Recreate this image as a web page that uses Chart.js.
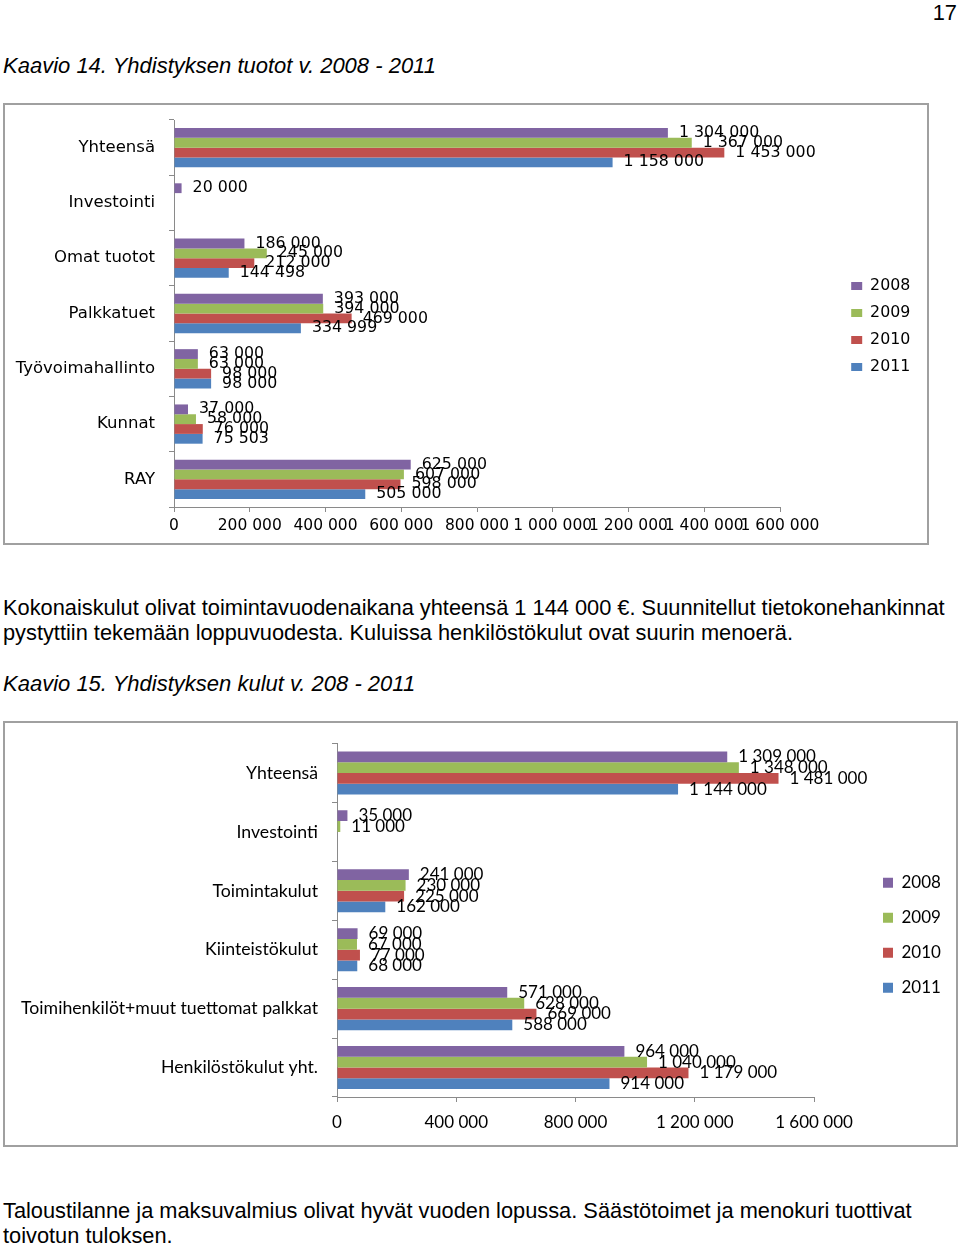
<!DOCTYPE html>
<html>
<head>
<meta charset="utf-8">
<script src="https://cdn.jsdelivr.net/npm/chart.js@4.4.0/dist/chart.umd.min.js"></script>
<style>
  body { margin: 0; background: #fff; width: 960px; height: 1246px; position: relative; overflow: hidden; }
  .txt { position: absolute; left: 3px; font-family: "Liberation Sans", Arial, sans-serif; font-size: 21.8px; line-height: 25px; color: #000; white-space: nowrap; }
  .cap { font-style: italic; font-size: 22px; }
  .frame { position: absolute; left: 3px; border: 2px solid #a0a0a0; box-sizing: border-box; }
  .frame canvas { position: absolute; left: 0; top: 0; }
</style>
</head>
<body>
<div class="txt" id="pnum" style="left:auto; right:3px; top:0px;">17</div>
<div class="txt cap" style="top:53px;">Kaavio 14. Yhdistyksen tuotot v. 2008 - 2011</div>
<div class="frame" style="top:103px; width:926px; height:442px;"><canvas id="tuotot" width="922" height="438"></canvas></div>
<div class="txt" style="top:595px;">Kokonaiskulut olivat toimintavuodenaikana yhteensä 1 144 000 €. Suunnitellut tietokonehankinnat<br>pystyttiin tekemään loppuvuodesta. Kuluissa henkilöstökulut ovat suurin menoerä.</div>
<div class="txt cap" style="top:671px;">Kaavio 15. Yhdistyksen kulut v. 208 - 2011</div>
<div class="frame" style="top:721px; width:955px; height:426px;"><canvas id="kulut" width="951" height="422"></canvas></div>
<div class="txt" style="top:1198px;">Taloustilanne ja maksuvalmius olivat hyvät vuoden lopussa. Säästötoimet ja menokuri tuottivat<br>toivotun tuloksen.</div>

<script>
// vuodet ja värit
const vuodet = ['2008', '2009', '2010', '2011'];
const varit = ['#8064A2', '#9BBB59', '#C0504D', '#4F81BD'];

// Kaavio 14 - tuotot
const tuototLuokat = ['Yhteensä', 'Investointi', 'Omat tuotot', 'Palkkatuet', 'Työvoimahallinto', 'Kunnat', 'RAY'];
const tuotot2008 = [1304000, 20000, 186000, 393000, 63000, 37000, 625000];
const tuotot2009 = [1367000, null, 245000, 394000, 63000, 58000, 607000];
const tuotot2010 = [1453000, null, 212000, 469000, 98000, 76000, 598000];
const tuotot2011 = [1158000, null, 144498, 334999, 98000, 75503, 505000];

// Kaavio 15 - kulut
const kulutLuokat = ['Yhteensä', 'Investointi', 'Toimintakulut', 'Kiinteistökulut', 'Toimihenkilöt+muut tuettomat palkkat', 'Henkilöstökulut yht.'];
const kulut2008 = [1309000, 35000, 241000, 69000, 571000, 964000];
const kulut2009 = [1348000, 11000, 230000, 67000, 628000, 1040000];
const kulut2010 = [1481000, null, 225000, 77000, 669000, 1179000];
const kulut2011 = [1144000, null, 162000, 68000, 588000, 914000];

function muotoile(v) {
    return String(v).replace(/\B(?=(\d{3})+(?!\d))/g, ' ');
}

// arvot palkkien perään
const arvot = {
    id: 'arvot',
    afterDatasetsDraw(chart, args, opts) {
        const ctx = chart.ctx;
        ctx.save();
        ctx.font = opts.font;
        ctx.fillStyle = '#000';
        ctx.textBaseline = 'middle';
        ctx.textAlign = 'left';
        chart.data.datasets.forEach((ds, i) => {
            chart.getDatasetMeta(i).data.forEach((bar, j) => {
                if (ds.data[j] === null) return;
                ctx.fillText(muotoile(ds.data[j]), bar.x + opts.offset, bar.y);
            });
        });
        ctx.restore();
    }
};

// selitteen leveys ja paikka kuten excelissä
const selite = {
    id: 'selite',
    afterInit(chart, args, opts) {
        const lg = chart.legend;
        const fit = lg.fit;
        lg.fit = function () {
            fit.call(this);
            this.width = opts.width;
        };
    },
    afterLayout(chart, args, opts) {
        const lg = chart.legend;
        lg.left += opts.shift;
        lg.right += opts.shift;
        lg.top += opts.dy;
        lg.bottom += opts.dy;
    }
};

function teeKaavio(id, luokat, sarjat, s) {
    const ctx = document.getElementById(id).getContext('2d');
    return new Chart(ctx, {
        type: 'bar',
        data: {
            labels: luokat,
            datasets: sarjat.map((d, i) => ({
                label: vuodet[i],
                data: d,
                backgroundColor: varit[i],
                barPercentage: 1,
                categoryPercentage: s.kategoria
            }))
        },
        options: {
            indexAxis: 'y',
            responsive: false,
            animation: false,
            layout: { padding: { top: s.ylä, bottom: 0, left: 0, right: 0 } },
            scales: {
                x: {
                    min: 0,
                    max: 1600000,
                    afterFit: (sc) => { sc.height = s.xKorkeus; },
                    ticks: {
                        stepSize: s.askel,
                        autoSkip: false,
                        maxRotation: 0,
                        minRotation: 0,
                        padding: s.xPad,
                        color: '#000',
                        font: { family: s.fontti, size: s.xKoko },
                        callback: (v) => muotoile(v)
                    },
                    grid: { drawOnChartArea: false, tickLength: 5, color: '#8a8a8a' },
                    border: { color: '#8a8a8a' }
                },
                y: {
                    afterFit: (sc) => {
                        sc.width = s.yLeveys;
                        sc.paddingTop = 0;
                        sc.paddingBottom = 0;
                    },
                    ticks: {
                        autoSkip: false,
                        padding: 14,
                        color: '#000',
                        font: { family: s.fontti, size: s.yKoko }
                    },
                    grid: { drawOnChartArea: false, tickLength: 5, color: '#8a8a8a' },
                    border: { color: '#8a8a8a' }
                }
            },
            plugins: {
                tooltip: { enabled: false },
                legend: {
                    position: 'right',
                    labels: {
                        boxWidth: s.laatikko[0],
                        boxHeight: s.laatikko[1],
                        padding: s.väli,
                        color: '#000',
                        font: { family: s.fontti, size: s.koko }
                    }
                },
                arvot: { font: s.koko + 'px ' + s.fontti, offset: 11 },
                selite: { width: s.seliteLeveys, shift: s.siirto, dy: s.dy }
            }
        },
        plugins: [arvot, selite]
    });
}

teeKaavio('tuotot', tuototLuokat, [tuotot2008, tuotot2009, tuotot2010, tuotot2011], {
    fontti: 'DejaVu Sans', koko: 15.8, xKoko: 15.5, yKoko: 16.5, kategoria: 0.71, ylä: 15, xKorkeus: 36, yLeveys: 169,
    askel: 200000, xPad: 5, laatikko: [11, 8], väli: 11.2, seliteLeveys: 147, siirto: 60, dy: -5
});

teeKaavio('kulut', kulutLuokat, [kulut2008, kulut2009, kulut2010, kulut2011], {
    fontti: 'Lato', koko: 17, xKoko: 17, yKoko: 17.7, kategoria: 0.73, ylä: 20.5, xKorkeus: 48, yLeveys: 332,
    askel: 400000, xPad: 10, laatikko: [10, 10], väli: 18, seliteLeveys: 142, siirto: 51, dy: -9
});
</script>
</body>
</html>
